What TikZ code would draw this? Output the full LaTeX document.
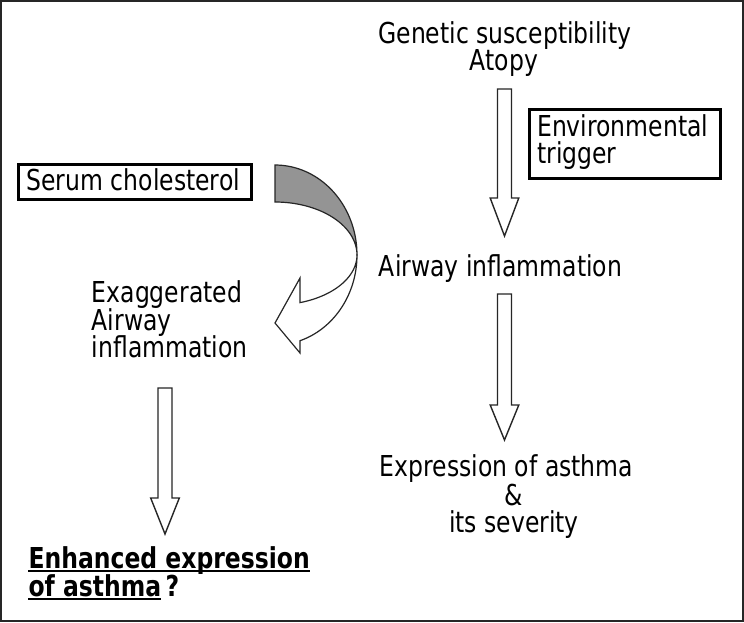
\documentclass[tikz,border=0pt]{standalone}
\usepackage{fontspec}
\setmainfont[FakeStretch=0.816]{DejaVu Sans}
\newcommand{\mkblockarrow}[4]{% x centre, top, head start, tip
  \draw[arrowline] ({#1-7},#2) -- ({#1+7},#2) -- ({#1+7},#3) -- ({#1+14.3},#3)
    -- (#1,#4) -- ({#1-14.3},#3) -- ({#1-7},#3) -- cycle;}
\begin{document}
\begin{tikzpicture}[x=1pt,y=-1pt,
  txt/.style={inner sep=0pt, font=\fontsize{28.8}{34}\selectfont},
  boxline/.style={draw=black, line width=3pt, inner sep=0pt},
  arrowline/.style={draw=black!85, line width=1.4pt, fill=white, line join=miter},
  ulined/.style={line width=2pt}]
\useasboundingbox (0,0) rectangle (744,622);
\fill[white] (0,0) rectangle (744,622);
\draw[line width=2pt, black!85] (1,1) rectangle (743,621);

% right column
\node[txt, anchor=base] (gen) at (505,43.5) {Genetic susceptibility};
\node[txt, anchor=base] (atopy) at (504,70) {Atopy};
\node[boxline, minimum width=191pt, minimum height=69.3pt] (envbox) at (624.7,143.85) {};
\node[txt, anchor=base west] (env1) at (537,136.7) {Environmental};
\node[txt, anchor=base west] (env2) at (537,163.3) {trigger};
\node[txt, anchor=base] (aw) at (500.5,276) {Airway inflammation};
\node[txt, anchor=base] (ex1) at (506.5,476.7) {Expression of asthma};
\node[txt, anchor=base] (ex2) at (514,505) {\&};
\node[txt, anchor=base] (ex3) at (514,532.7) {its severity};

\mkblockarrow{504.5}{89}{198}{236}
\mkblockarrow{504.5}{294}{405}{440}

% left column
\node[boxline, minimum width=233.3pt, minimum height=34.4pt] (serumbox) at (134.9,182) {};
\node[txt, anchor=base] (serum) at (133.3,190.7) {Serum cholesterol};
\node[txt, anchor=base west] (exa1) at (91.7,302.3) {Exaggerated};
\node[txt, anchor=base west] (exa2) at (91.7,330) {Airway};
\node[txt, anchor=base west] (exa3) at (91.7,357.7) {inflammation};

\mkblockarrow{165}{388}{498}{534}

\node[txt, font=\fontsize{28.8}{34}\selectfont\bfseries, anchor=base west] (enh1) at (28.3,568.3) {Enhanced expression};
\node[txt, font=\fontsize{28.8}{34}\selectfont\bfseries, anchor=base west] (enh2) at (28.3,596.7) {of asthma};
\node[txt, font=\fontsize{28.8}{34}\selectfont\bfseries, anchor=base west] (qm) at ([xshift=4pt]enh2.base east) {?};
\draw[ulined] ([yshift=-2.5pt]enh1.base west) -- ([yshift=-2.5pt]enh1.base east);
\draw[ulined] ([yshift=-2.5pt]enh2.base west) -- ([yshift=-2.5pt]enh2.base east);

% curved arrow
\draw[black!85, line width=1.2pt, fill=black!42]
  plot[domain=90:0, samples=50] ({275+82*cos(\x)},{255-90*sin(\x)})
  -- plot[domain=0:90, samples=50] ({275+82*cos(\x)},{255-53*sin(\x)}) -- cycle;
\draw[black!85, line width=1.2pt, fill=white, line join=miter]
  plot[domain=0:-72.3, samples=50] ({275+82*cos(\x)},{255-90*sin(\x)})
  -- (300,353) -- (275,323) -- (300,278)
  -- plot[domain=-72.3:0, samples=50] ({275+82*cos(\x)},{255-50*sin(\x)}) -- cycle;
\end{tikzpicture}
\end{document}
